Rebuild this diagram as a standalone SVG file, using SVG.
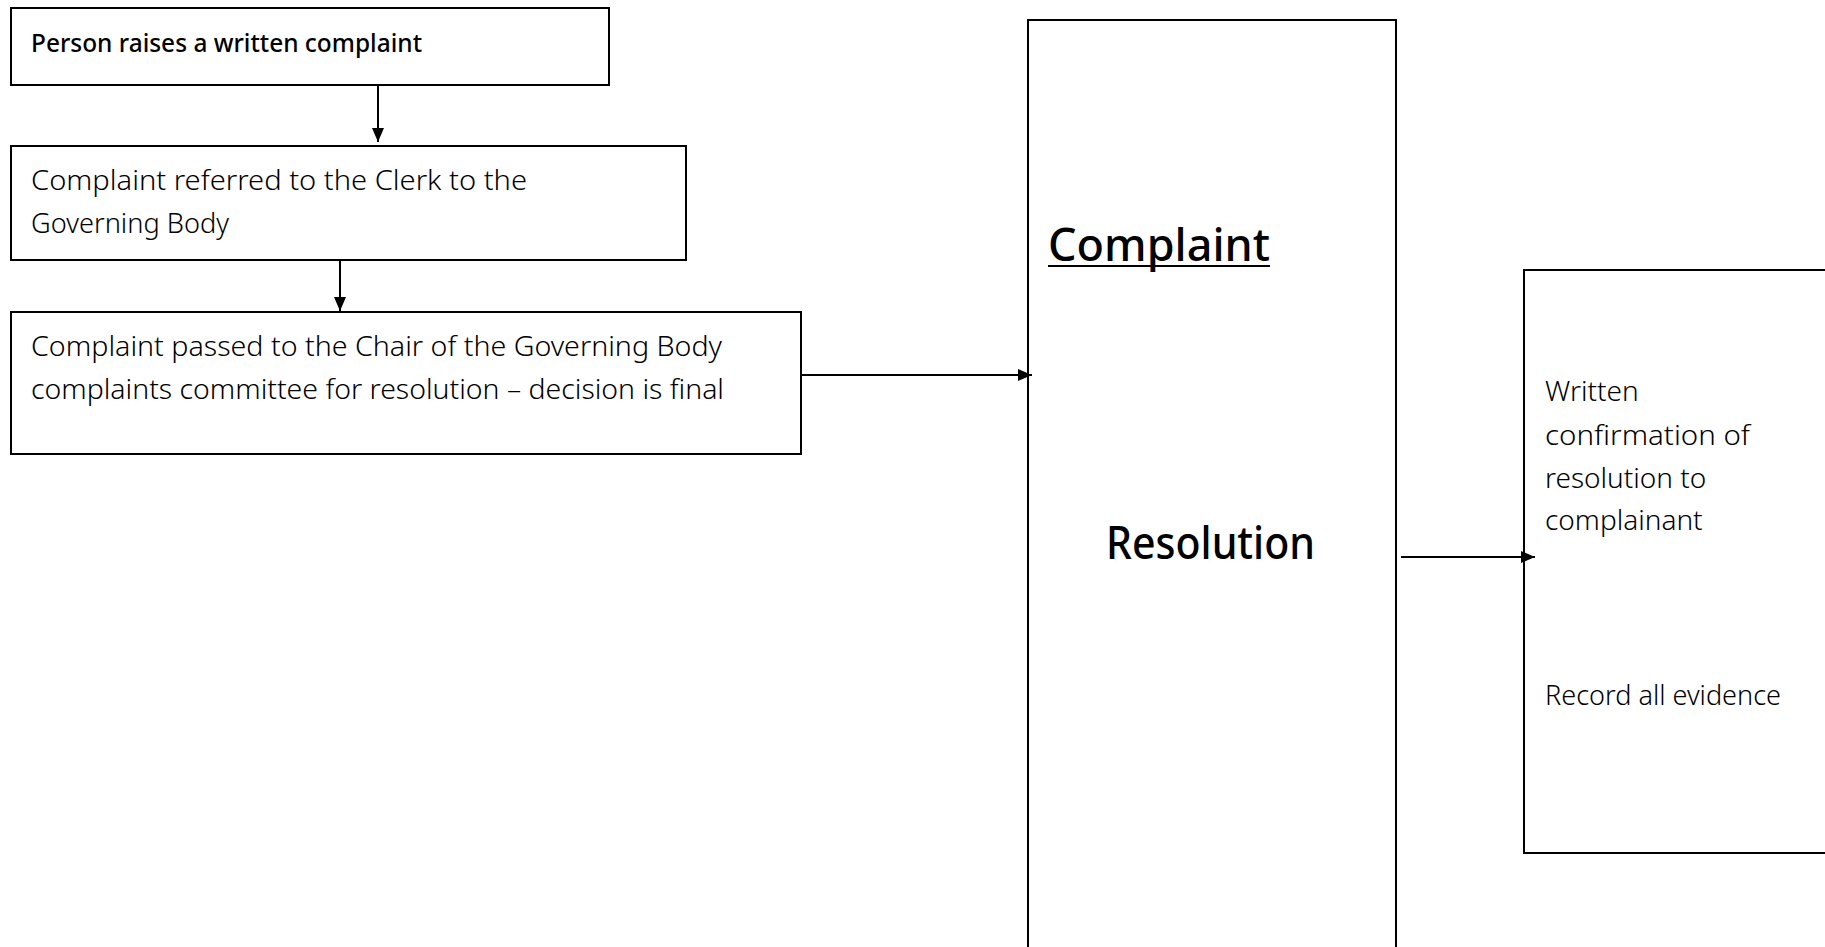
<svg xmlns="http://www.w3.org/2000/svg" width="1825" height="947" viewBox="0 0 1825 947">
<style>
.box{fill:#fff;stroke:#000;stroke-width:2}
.t{font-family:"Noto Sans","DejaVu Sans",sans-serif;font-size:28px;fill:#000;font-weight:300}
.tb{font-family:"Noto Sans","DejaVu Sans",sans-serif;font-size:26px;fill:#000;font-weight:500}
.big{font-family:"Noto Sans","DejaVu Sans",sans-serif;font-size:46px;fill:#000;font-weight:500}
.c{fill:none;stroke:#000;stroke-width:2}
</style>
<defs>
<marker id="a" viewBox="0 0 14 12" refX="14" refY="6" markerWidth="14" markerHeight="12" orient="auto" markerUnits="userSpaceOnUse">
<path d="M0,0 L14,6 L0,12 Z" fill="#000"/>
</marker>
</defs>
<rect width="1825" height="947" fill="#fff"/>
<g id="n1">
<rect class="box" x="11" y="8" width="598" height="77"/>
<text class="tb" x="31" y="52" textLength="391" lengthAdjust="spacingAndGlyphs">Person raises a written complaint</text>
</g>
<g id="n2">
<rect class="box" x="11" y="146" width="675" height="114"/>
<text class="t" x="31" y="190" textLength="496" lengthAdjust="spacingAndGlyphs">Complaint referred to the Clerk to the</text>
<text class="t" x="31" y="233" textLength="198" lengthAdjust="spacingAndGlyphs">Governing Body</text>
</g>
<g id="n3">
<rect class="box" x="11" y="312" width="790" height="142"/>
<text class="t" x="31" y="356" textLength="691" lengthAdjust="spacingAndGlyphs">Complaint passed to the Chair of the Governing Body</text>
<text class="t" x="31" y="399" textLength="693" lengthAdjust="spacingAndGlyphs">complaints committee for resolution – decision is final</text>
</g>
<g id="n4">
<rect class="box" x="1028" y="20" width="368" height="940"/>
<text class="big" x="1048" y="261" textLength="222" lengthAdjust="spacingAndGlyphs">Complaint</text>
<line x1="1048" y1="266" x2="1270" y2="266" stroke="#000" stroke-width="2"/>
<text class="big" x="1106" y="559" textLength="209" lengthAdjust="spacingAndGlyphs">Resolution</text>
</g>
<g id="n5">
<rect class="box" x="1524" y="270" width="320" height="583"/>
<text class="t" x="1545" y="401">Written</text>
<text class="t" x="1545" y="445" textLength="205" lengthAdjust="spacingAndGlyphs">confirmation of</text>
<text class="t" x="1545" y="488">resolution to</text>
<text class="t" x="1545" y="530">complainant</text>
<text class="t" x="1545" y="705" textLength="236" lengthAdjust="spacingAndGlyphs">Record all evidence</text>
</g>
<g id="connectors">
<line class="c" x1="378" y1="86" x2="378" y2="142" marker-end="url(#a)"/>
<line class="c" x1="340" y1="260" x2="340" y2="311" marker-end="url(#a)"/>
<line class="c" x1="801" y1="375" x2="1032" y2="375" marker-end="url(#a)"/>
<line class="c" x1="1401" y1="557" x2="1535" y2="557" marker-end="url(#a)"/>
</g>
</svg>
